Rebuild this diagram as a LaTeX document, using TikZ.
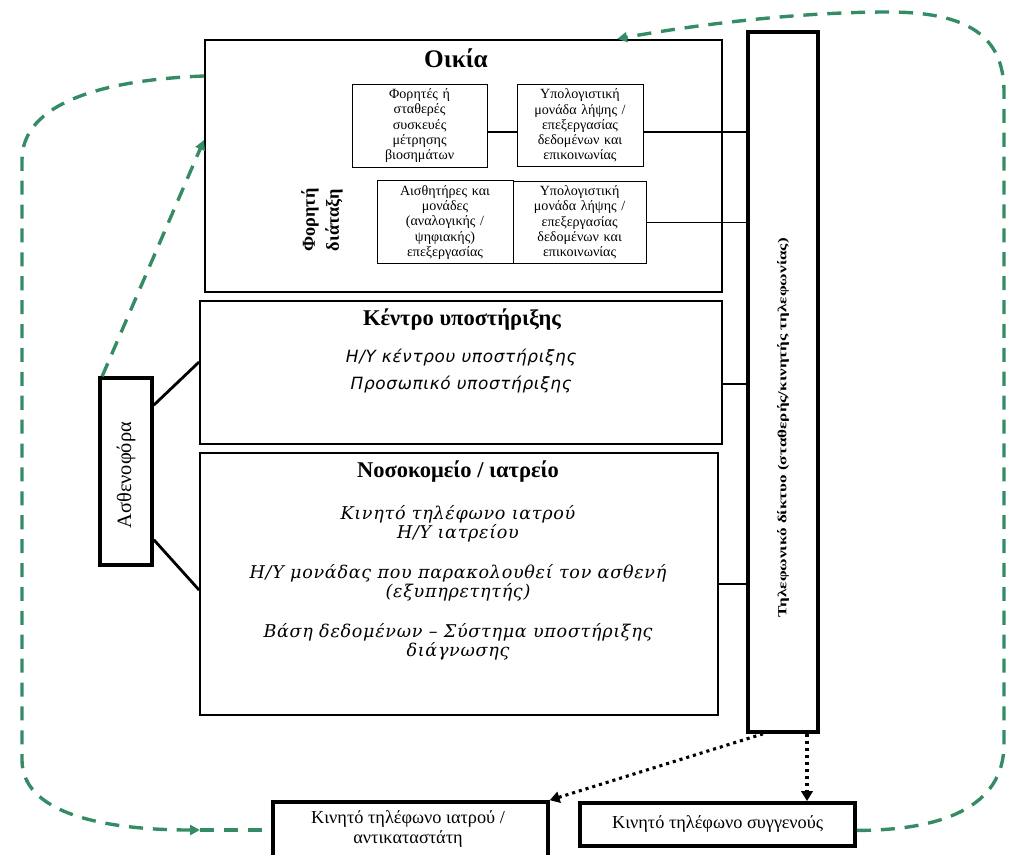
\documentclass[tikz,border=0pt]{standalone}
\usepackage{fontspec}
\setmainfont{Liberation Serif}
\newfontfamily\hintfont{DejaVu Sans}[LetterSpace=4]
\newfontfamily\listfont{DejaVu Serif}[LetterSpace=4]
\usetikzlibrary{arrows.meta}
\definecolor{loopgreen}{RGB}{52,140,100}
\tikzset{
  bigbox/.style={draw, line width=1.6pt, inner sep=0pt},
  smallbox/.style={draw, line width=0.6pt, minimum height=1.975cm, align=center,
    inner xsep=2pt, font=\fontsize{10}{10.8}\selectfont},
  heavybox/.style={draw, line width=2.6pt, inner sep=0pt},
  wire/.style={line width=0.8pt},
  armline/.style={line width=2pt},
  greenloop/.style={loopgreen, line width=2.4pt, dash pattern=on 10pt off 7pt},
  greenarrow/.style={greenloop, -{Triangle[length=7pt,width=7pt]}},
  dotarrow/.style={line width=2.2pt, dash pattern=on 2.2pt off 2.8pt,
    -{Triangle[length=7pt,width=8pt]}},
}

\begin{document}
\begin{tikzpicture}
  \clip (0,0) rectangle (25.25,-21.35);

  % home with the portable device
  \node[bigbox, minimum width=12.925cm, minimum height=6.3cm] (oikia) at (11.59,-4.15) {};
  \node[font=\bfseries\fontsize{18}{20}\selectfont] (oikiatitle) at (11.4,-1.45) {Οικία};
  \node[smallbox, minimum width=3.375cm, text width=3.2cm] (dev) at (10.49,-3.14)
    {Φορητές ή\\σταθερές\\συσκευές\\μέτρησης\\βιοσημάτων};
  \node[smallbox, minimum width=3.15cm, text width=3cm] (unitA) at (14.5,-3.14)
    {Υπολογιστική\\μονάδα λήψης /\\επεξεργασίας\\δεδομένων και\\επικοινωνίας};
  \node[smallbox, minimum width=3.4cm, text width=3.23cm] (sens) at (11.125,-5.56)
    {Αισθητήρες και\\μονάδες\\(αναλογικής /\\ψηφιακής)\\επεξεργασίας};
  \node[smallbox, minimum width=3.325cm, text width=3.15cm] (unitB) at (14.49,-5.56)
    {Υπολογιστική\\μονάδα λήψης /\\επεξεργασίας\\δεδομένων και\\επικοινωνίας};
  \node[rotate=90, align=center, font=\bfseries\fontsize{13}{17}\selectfont] (portable) at (8.05,-5.5)
    {Φορητή\\διάταξη};

  % support centre
  \node[bigbox, minimum width=13.05cm, minimum height=3.575cm] (kentro) at (11.53,-9.31) {};
  \node[font=\bfseries\fontsize{16}{18}\selectfont] (kentrotitle) at (11.55,-8.0) {Κέντρο υποστήριξης};
  \node[align=center, font=\hintfont\itshape\fontsize{12}{19}\selectfont] (kentrotext) at (11.53,-9.27)
    {Η/Υ κέντρου υποστήριξης\\Προσωπικό υποστήριξης};

  % hospital
  \node[bigbox, minimum width=12.95cm, minimum height=6.55cm] (nosok) at (11.48,-14.6) {};
  \node[font=\bfseries\fontsize{16}{18}\selectfont] (nosoktitle) at (11.45,-11.8) {Νοσοκομείο / ιατρείο};
  \node[anchor=north, align=center, font=\listfont\itshape\fontsize{12.5}{13.5}\selectfont] (nosoktext) at (11.45,-12.5)
    {Κινητό τηλέφωνο ιατρού\\Η/Υ ιατρείου\\[15pt]Η/Υ μονάδας που παρακολουθεί τον ασθενή\\(εξυπηρετητής)\\[15pt]Βάση δεδομένων – Σύστημα υποστήριξης\\διάγνωσης};

  % network
  \node[heavybox, minimum width=1.75cm, minimum height=17.5cm] (net) at (19.575,-9.55) {};
  \node[rotate=90, font=\bfseries\fontsize{8}{9}\selectfont] (nettext) at (19.575,-10.7)
    {\scalebox{1.52}[1.1]{Τηλεφωνικό δίκτυο (σταθερής/κινητής τηλεφωνίας)}};

  % ambulance
  \node[heavybox, minimum width=1.3cm, minimum height=4.675cm] (asthen) at (3.15,-11.79) {};
  \node[rotate=90, font=\fontsize{14.5}{16}\selectfont] (asthentext) at (3.15,-11.88) {Ασθενοφόρα};

  % mobile phones
  \node[heavybox, minimum width=6.875cm, minimum height=1.6cm] (phoneA) at (10.26,-20.85) {};
  \node[align=center, font=\fontsize{13}{14.5}\selectfont] (phoneAtext) at (10.2,-20.72)
    {Κινητό τηλέφωνο ιατρού /\\αντικαταστάτη};
  \node[heavybox, minimum width=6.875cm, minimum height=1.075cm, font=\fontsize{13}{14.5}\selectfont] (phoneB) at (17.94,-20.61)
    {Κινητό τηλέφωνο συγγενούς};

  % wires
  \draw[wire] ([yshift=-0.16cm]dev.east) -- ([yshift=-0.16cm]unitA.west);
  \draw[wire] ([yshift=-0.16cm]unitA.east) -- ([yshift=-0.16cm]unitA.east -| net.west);
  \draw[wire] (unitB.east) -- (unitB.east -| net.west);
  \draw[wire] ([yshift=-0.29cm]kentro.east) -- ([yshift=-0.29cm]kentro.east -| net.west);
  \draw[wire] (nosok.east) -- (nosok.east -| net.west);
  \draw[armline] ([yshift=-0.72cm]asthen.north east) -- ([yshift=0.26cm]kentro.west);
  \draw[armline] ([yshift=0.68cm]asthen.south east) -- ([yshift=-0.15cm]nosok.west);

  \draw[dotarrow] ([xshift=-0.5cm]net.south) -- (phoneA.north east);
  \draw[dotarrow] ([xshift=0.6cm]net.south) -- ([xshift=0.6cm]net.south |- phoneB.north);

  % green loops
  \draw[greenarrow] ([xshift=0.1cm]asthen.north west) -- ([yshift=0.65cm]oikia.west);
  \coordinate (loopmid) at (5.0,-20.75);
  \draw[greenarrow] ([yshift=2.25cm]oikia.west) .. controls (2.5,-2.0) and (0.55,-2.6) .. (0.55,-4.0)
    -- (0.55,-19.0) .. controls (0.55,-20.3) and (2.5,-20.75) .. (loopmid);
  \draw[greenloop] (loopmid) -- (loopmid -| phoneA.west);
  \draw[greenarrow] ([yshift=-0.15cm]phoneB.east) .. controls (23.5,-20.76) and (25.1,-20.2) .. (25.1,-18.6)
    -- (25.1,-2.3) .. controls (25.1,-0.9) and (24.2,-0.3) .. (22.2,-0.3)
    .. controls (20.0,-0.3) and (17.5,-0.6) .. ([xshift=3.84cm]oikia.north);
\end{tikzpicture}
\end{document}
